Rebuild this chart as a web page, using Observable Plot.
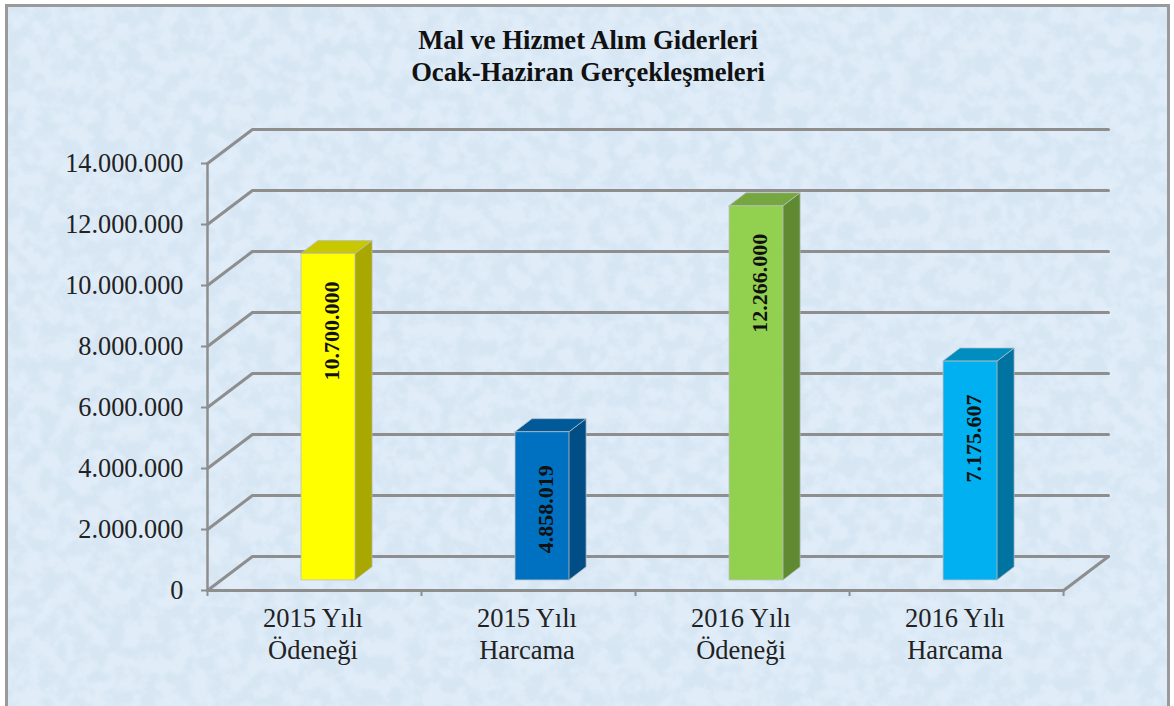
<!DOCTYPE html>
<html lang="tr">
<head>
<meta charset="utf-8">
<script src="https://cdn.jsdelivr.net/npm/d3@7"></script>
<script src="https://cdn.jsdelivr.net/npm/@observablehq/plot@0.6"></script>
<style>
html,body{margin:0;padding:0;background:#fff;}
#frame{position:relative;width:1174px;height:706px;overflow:hidden;font-family:"Liberation Serif",serif;}
#paper{position:absolute;left:5px;top:4px;width:1159px;height:710px;border:3px solid #9a9a9a;background:#d9e8f6;overflow:hidden;}
#paper svg{display:block;}
#content{position:absolute;left:0;top:0;width:1174px;height:706px;}
#title{height:100px;box-sizing:border-box;padding-top:24px;text-align:center;font-weight:bold;font-size:26.6px;line-height:32px;color:#111;margin-left:2px;}
#content svg{display:block;background:transparent;}
</style>
</head>
<body>
<div id="frame">
  <div id="paper">
    <svg width="1160" height="710" xmlns="http://www.w3.org/2000/svg">
      <filter id="tex" x="0" y="0" width="100%" height="100%">
        <feTurbulence type="fractalNoise" baseFrequency="0.06" numOctaves="5" seed="7"/>
        <feColorMatrix type="matrix" values="0 0 0 0 0.68  0 0 0 0 0.79  0 0 0 0 0.90  3.4 0 0 0 -1.2"/>
      </filter>
      <rect width="1160" height="710" fill="#e0edf9"/>
      <rect width="1160" height="710" filter="url(#tex)"/>
    </svg>
  </div>
  <div id="content">
    <div id="title">Mal ve Hizmet Alım Giderleri<br>Ocak-Haziran Gerçekleşmeleri</div>
    <div id="chart"></div>
  </div>
</div>
<script>
const categories = ["2015 Yılı\nÖdeneği", "2015 Yılı\nHarcama", "2016 Yılı\nÖdeneği", "2016 Yılı\nHarcama"];
const values = [10700000, 4858019, 12266000, 7175607];
const valueLabels = ["10.700.000", "4.858.019", "12.266.000", "7.175.607"];
const frontColors = ["#ffff00", "#0070c0", "#92d050", "#00b0f0"];
const topColors = ["#c8c800", "#005a9a", "#75a640", "#008dc0"];
const sideColors = ["#a8a800", "#004e85", "#5f8a32", "#0073a0"];
const gridValues = [0, 2000000, 4000000, 6000000, 8000000, 10000000, 12000000, 14000000];
const gridLabels = ["0", "2.000.000", "4.000.000", "6.000.000", "8.000.000", "10.000.000", "12.000.000", "14.000.000"];

// oblique projection of the Excel-style 3-D chart, in scale units
const wallDX = 0.21, wallDY = 1115000;     // depth of the walls
const planeDX = 0.0653, planeDY = 330000;  // bars' front plane inside the floor
const sideDX = 0.08, sideDY = 430000;      // bar depth
const barW = 0.252;
const n = categories.length;

const barX = i => i + 0.5 + planeDX - barW / 2;
const rows = values.map((v, i) => ({
  i, v, x1: barX(i), x2: barX(i) + barW, base: planeDY, top: planeDY + v
}));

const gridLines = gridValues.flatMap((v, k) => [
  {k, x: 0, y: v},
  {k, x: wallDX, y: v + wallDY},
  {k, x: n + wallDX, y: v + wallDY}
]);
const floorEdge = [
  {x: 0, y: 0}, {x: n, y: 0}, {x: n + wallDX, y: wallDY}
];
const sidePoly = rows.flatMap(r => [
  {i: r.i, x1: r.x2, y1: r.base, x2: r.x2, y2: r.top},
  {i: r.i, x1: r.x2 + sideDX, y1: r.base + sideDY, x2: r.x2 + sideDX, y2: r.top + sideDY}
]);
const topPoly = rows.flatMap(r => [
  {i: r.i, x1: r.x1, y1: r.top, x2: r.x1 + sideDX, y2: r.top + sideDY},
  {i: r.i, x1: r.x2, y1: r.top, x2: r.x2 + sideDX, y2: r.top + sideDY}
]);

const edge = "#b9bcbf";
const gridColor = "#8e8e8e";
const plot = Plot.plot({
  width: 1174,
  height: 606,
  marginLeft: 207,
  marginRight: 66,
  marginTop: 29,
  marginBottom: 116,
  style: {background: "transparent", fontFamily: "'Liberation Serif', serif", overflow: "visible"},
  x: {type: "linear", domain: [0, n + wallDX], axis: null},
  y: {type: "linear", domain: [0, 14000000 + wallDY], axis: null},
  marks: [
    Plot.line(gridLines, {x: "x", y: "y", z: "k", stroke: gridColor, strokeWidth: 3, strokeLinejoin: "miter"}),
    Plot.line(floorEdge, {x: "x", y: "y", stroke: gridColor, strokeWidth: 3}),
    Plot.ruleX([0], {y1: 0, y2: 14000000, stroke: gridColor, strokeWidth: 2.5}),
    Plot.axisY({
      ticks: gridValues, tickFormat: (d, i) => gridLabels[i], tickSize: 6, tickPadding: 18,
      stroke: gridColor, strokeWidth: 2, fontSize: 26.3, fill: "#222", marginLeft: 207, label: null
    }),
    Plot.axisX({
      ticks: d3.range(0, n + 1), tickFormat: () => "", tickSize: 6, stroke: gridColor, strokeWidth: 2,
      label: null, anchor: "bottom"
    }),
    Plot.text(categories, {
      x: (d, i) => i + 0.5, y: 0, text: d => d, dx: -1.5, dy: 42, fontSize: 26.5, fill: "#222",
      lineHeight: 1.21, textAnchor: "middle"
    }),
    Plot.area(sidePoly, {x1: "x1", y1: "y1", x2: "x2", y2: "y2", z: "i", fill: d => sideColors[d.i], stroke: edge, strokeWidth: 0.75}),
    Plot.area(topPoly, {x1: "x1", y1: "y1", x2: "x2", y2: "y2", z: "i", fill: d => topColors[d.i], stroke: edge, strokeWidth: 0.75}),
    Plot.rect(rows, {x1: "x1", x2: "x2", y1: "base", y2: "top", fill: d => frontColors[d.i], stroke: edge, strokeWidth: 0.75}),
    Plot.text(rows, {
      x: d => (d.x1 + d.x2) / 2, y: "top", text: d => valueLabels[d.i], rotate: -90,
      dy: 77, dx: 3, fontSize: 22, fontWeight: "bold", fill: "#111", textAnchor: "middle"
    })
  ]
});
document.getElementById("chart").appendChild(plot);
</script>
</body>
</html>
